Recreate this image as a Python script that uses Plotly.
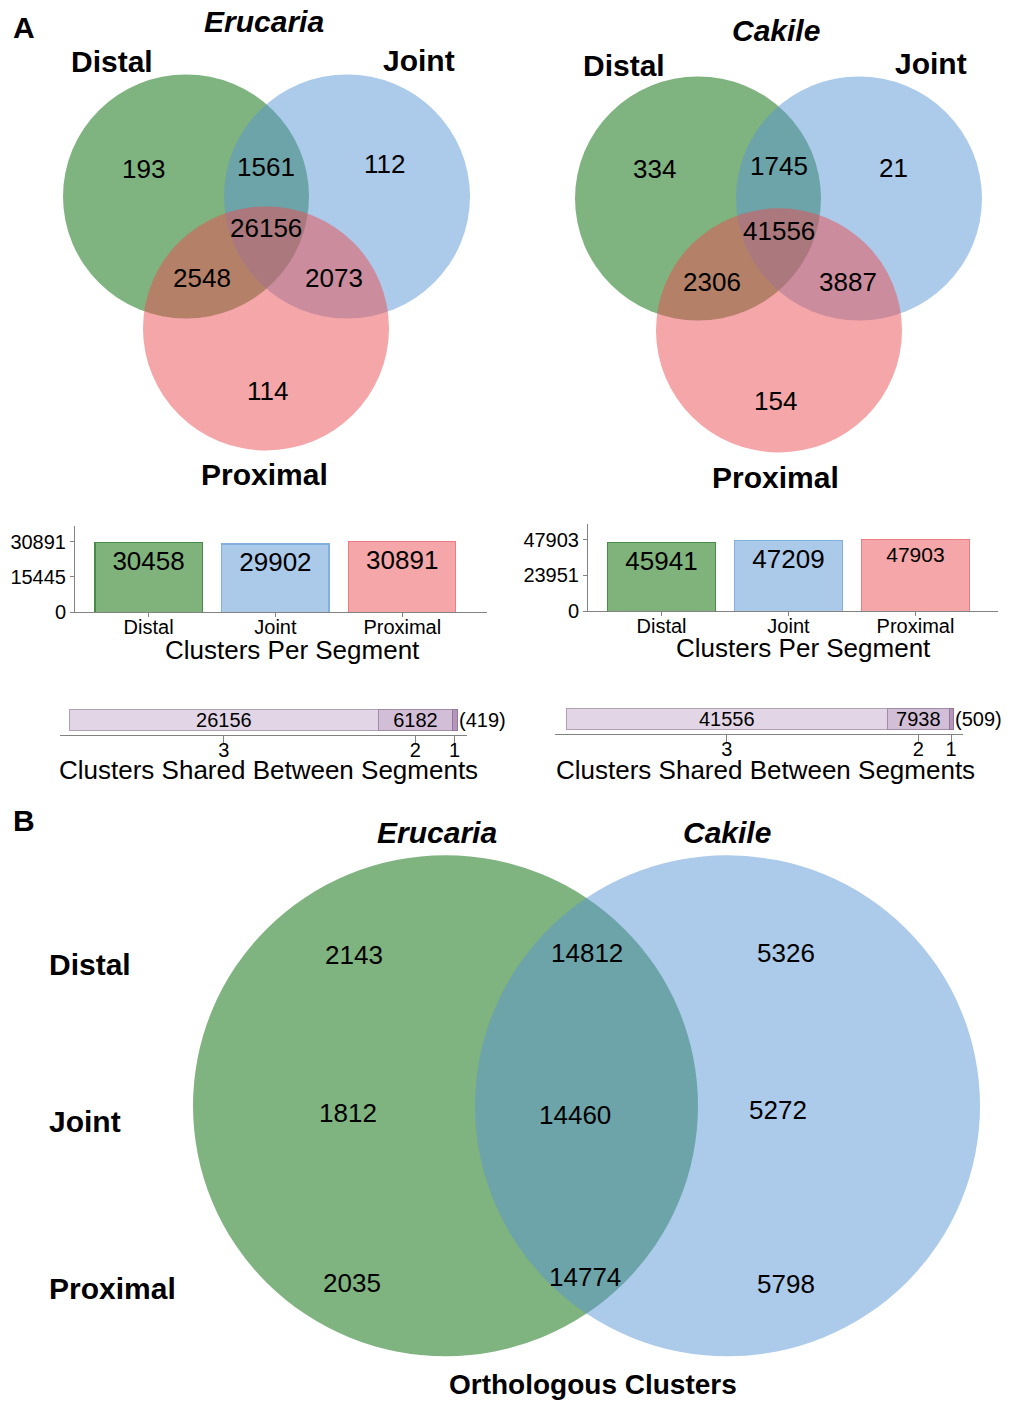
import plotly.graph_objects as go

W, H = 1021, 1411
FONT = "Liberation Sans, Arial, sans-serif"

# ---------------- data ----------------
segments = ["Distal", "Joint", "Proximal"]
venn_regions = ["100", "010", "001", "110", "101", "011", "111"]  # Distal/Joint/Proximal membership
erucaria_venn = [193, 112, 114, 1561, 2548, 2073, 26156]
cakile_venn = [334, 21, 154, 1745, 2306, 3887, 41556]
erucaria_per_segment = [30458, 29902, 30891]
cakile_per_segment = [45941, 47209, 47903]
shared_levels = ["3", "2", "1"]
erucaria_shared = [26156, 6182, 419]
cakile_shared = [41556, 7938, 509]
species = ["Erucaria", "Cakile"]
ortho_erucaria_only = [2143, 1812, 2035]
ortho_both = [14812, 14460, 14774]
ortho_cakile_only = [5326, 5272, 5798]

# ---------------- styles ----------------
GREEN_FILL = "rgb(0,103,0)"
BLUE_FILL = "rgb(89,149,211)"
RED_FILL = "rgb(233,77,81)"
circle_fills = [GREEN_FILL, BLUE_FILL, RED_FILL]
bar_fills = ["rgb(128,179,123)", "rgb(171,201,232)", "rgb(244,166,168)"]
bar_lines = ["rgb(70,140,70)", "rgb(130,175,222)", "rgb(235,125,130)"]
shared_fills = ["rgb(226,213,229)", "rgb(210,190,214)", "rgb(180,150,186)"]
shared_lines = ["rgb(175,160,180)", "rgb(160,140,166)", "rgb(150,120,156)"]
AXIS_GREY = "rgb(130,130,130)"


def xd(p0, p1):
    return [p0 / W, p1 / W]


def yd(top, bottom):
    return [1 - bottom / H, 1 - top / H]


fig = go.Figure()

# overlay axis in pixel coordinates (for the Venn diagrams and labels)
fig.add_trace(go.Scatter(x=[None], y=[None], xaxis="x", yaxis="y",
                         showlegend=False, hoverinfo="skip"))

shapes = []
annotations = []


def txt(x, y, s, size, bold=False, italic=False, xanchor="center", ref=("x", "y")):
    if italic:
        s = f"<i>{s}</i>"
    if bold:
        s = f"<b>{s}</b>"
    annotations.append(dict(x=x, y=y, xref=ref[0], yref=ref[1], text=s, showarrow=False,
                            xanchor=xanchor, yanchor="middle",
                            font=dict(family=FONT, size=size, color="black")))


def circle(cx, cy, r, color):
    shapes.append(dict(type="circle", xref="x", yref="y", x0=cx - r, x1=cx + r,
                       y0=cy - r, y1=cy + r, fillcolor=color, opacity=0.5,
                       line=dict(width=0), layer="below"))


# ---------------- panel A: 3-way Venns ----------------
venn_layouts = [
    dict(centers=[(186, 198), (347, 198), (266, 331)], r=123,
         title=(264, 22), labels=[(112, 62), (419, 61), (264, 478)],
         pos=[(143, 170), (384, 165), (267, 394), (266, 168), (202, 280), (334, 280), (266, 230)]),
    dict(centers=[(698, 200), (859, 200), (779, 333)], r=123,
         title=(776, 31), labels=[(624, 66), (931, 64), (775, 481)],
         pos=[(654, 170), (893, 169), (775, 404), (779, 167), (712, 284), (848, 284), (779, 233)]),
]
venn_values = [erucaria_venn, cakile_venn]

for sp, lay, vals in zip(species, venn_layouts, venn_values):
    for (cx, cy), col in zip(lay["centers"], circle_fills):
        circle(cx, cy, lay["r"], col)
    txt(*lay["title"], sp, 30, bold=True, italic=True)
    for (lx, ly), seg in zip(lay["labels"], segments):
        txt(lx, ly, seg, 30, bold=True)
    for (px, py), reg, v in zip(lay["pos"], venn_regions, vals):
        txt(px, py, str(v), 26)

txt(24, 28, "A", 30, bold=True)
txt(24, 827, "B", 30, bold=True)

# ---------------- panel A: clusters per segment bars ----------------
per_seg_layout = [
    dict(xa="x2", ya="y2", xdom=(75, 487), ydom=(530, 617), xr=(-0.58, 2.668), top=1.2255,
         sizes=[26, 26, 26], title=(292, 655)),
    dict(xa="x3", ya="y3", xdom=(588, 998), ydom=(528, 616), xr=(-0.579, 2.65), top=1.2222,
         sizes=[26, 26, 21], title=(803, 653)),
]
per_seg_values = [erucaria_per_segment, cakile_per_segment]

for i, (lay, vals) in enumerate(zip(per_seg_layout, per_seg_values)):
    fig.add_trace(go.Bar(
        x=segments, y=vals, xaxis=lay["xa"], yaxis=lay["ya"], width=0.845,
        marker=dict(color=bar_fills, line=dict(color=bar_lines, width=1.2)),
        text=[str(v) for v in vals], textposition="inside", insidetextanchor="end",
        textangle=0, constraintext="none",
        textfont=dict(family=FONT, size=lay["sizes"], color="black"),
        showlegend=False, hoverinfo="skip"))
    vmax = max(vals)
    axn = lay["xa"].replace("x", "xaxis")
    ayn = lay["ya"].replace("y", "yaxis")
    fig.layout[axn] = dict(domain=xd(*lay["xdom"]), anchor=lay["ya"], range=list(lay["xr"]),
                           showline=True, linecolor=AXIS_GREY, linewidth=1,
                           ticks="outside", ticklen=4, tickcolor=AXIS_GREY,
                           ticklabelstandoff=-7,
                           tickfont=dict(family=FONT, size=20, color="black"),
                           showgrid=False, zeroline=False, fixedrange=True)
    fig.layout[ayn] = dict(domain=yd(*lay["ydom"]), anchor=lay["xa"],
                           range=[0, vmax * lay["top"]],
                           tickvals=[0, vmax // 2, vmax],
                           ticktext=[str(t) for t in [0, vmax // 2, vmax]],
                           showline=True, linecolor=AXIS_GREY, linewidth=1,
                           ticks="outside", ticklen=4, tickcolor=AXIS_GREY,
                           tickfont=dict(family=FONT, size=20, color="black"),
                           showgrid=False, zeroline=False, fixedrange=True)
    txt(*lay["title"], "Clusters Per Segment", 26)

# ---------------- panel A: clusters shared between segments ----------------
shared_layout = [
    dict(xa="x4", ya="y4", axis=(60, 467), bar=(69, 457), ydom=(711, 741), title=(268, 776)),
    dict(xa="x5", ya="y5", axis=(555, 963), bar=(566, 953), ydom=(710, 740), title=(765, 776)),
]
shared_values = [erucaria_shared, cakile_shared]

for lay, vals in zip(shared_layout, shared_values):
    total = sum(vals)
    for j, (v, lvl) in enumerate(zip(vals, shared_levels)):
        fig.add_trace(go.Bar(
            x=[v], y=[0.5], orientation="h", width=0.7, xaxis=lay["xa"], yaxis=lay["ya"],
            marker=dict(color=shared_fills[j], line=dict(color=shared_lines[j], width=1)),
            text=[str(v)] if j < 2 else None, textposition="inside" if j < 2 else "none",
            insidetextanchor="middle", constraintext="none", textangle=0,
            textfont=dict(family=FONT, size=20, color="black"),
            showlegend=False, hoverinfo="skip"))
    a0, a1 = lay["axis"]
    b0, b1 = lay["bar"]
    per_px = total / (b1 - b0)
    cum = [sum(vals[:k]) + vals[k] / 2 for k in range(len(vals))]
    axn = lay["xa"].replace("x", "xaxis")
    ayn = lay["ya"].replace("y", "yaxis")
    fig.layout[axn] = dict(domain=xd(a0, a1), anchor=lay["ya"],
                           range=[-(b0 - a0) * per_px, total + (a1 - b1) * per_px],
                           tickvals=cum, ticktext=shared_levels,
                           showline=True, linecolor=AXIS_GREY, linewidth=1,
                           ticks="outside", ticklen=7, tickcolor=AXIS_GREY,
                           ticklabelstandoff=-10,
                           tickfont=dict(family=FONT, size=20, color="black"),
                           showgrid=False, zeroline=False, fixedrange=True)
    fig.layout[ayn] = dict(domain=yd(*lay["ydom"]), anchor=lay["xa"], range=[0, 1],
                           visible=False, fixedrange=True)
    annotations.append(dict(x=total, y=0.5, xref=lay["xa"], yref=lay["ya"],
                            text=f"({vals[-1]})", showarrow=False, xanchor="left",
                            yanchor="middle", xshift=0,
                            font=dict(family=FONT, size=20, color="black")))
    txt(*lay["title"], "Clusters Shared Between Segments", 26)

# ---------------- panel B: 2-way Venn of orthologous clusters ----------------
circle(445.5, 1114.5, 252.5, GREEN_FILL)
circle(727.5, 1114.5, 252.5, BLUE_FILL)
txt(437, 839, species[0], 30, bold=True, italic=True)
txt(727, 839, species[1], 30, bold=True, italic=True)
row_y = [972, 1130, 1299]
for seg, y in zip(segments, row_y):
    txt(47, y, seg, 30, bold=True, xanchor="left")
cell_pos = [
    [(354, 962), (587, 960), (786, 960)],
    [(348, 1122), (575, 1124), (778, 1119)],
    [(352, 1293), (585, 1287), (786, 1294)],
]
for k in range(3):
    for (px, py), v in zip(cell_pos[k], [ortho_erucaria_only[k], ortho_both[k], ortho_cakile_only[k]]):
        txt(px, py, str(v), 26)
txt(593, 1395, "Orthologous Clusters", 28, bold=True)

fig.update_layout(
    width=W, height=H, margin=dict(l=0, r=0, t=0, b=0),
    paper_bgcolor="white", plot_bgcolor="rgba(0,0,0,0)",
    barmode="stack", showlegend=False,
    font=dict(family=FONT, color="black"),
    xaxis=dict(domain=[0, 1], range=[0, W], visible=False, fixedrange=True),
    yaxis=dict(domain=[0, 1], range=[H, 0], visible=False, fixedrange=True),
    shapes=shapes, annotations=annotations,
)

page_fix = (
    "document.documentElement.style.margin='0px';"
    "document.body.style.margin='0px';"
    "document.body.style.padding='0px';"
    "var gd=document.getElementById('{plot_id}');"
    "gd.style.position='fixed';gd.style.top='0px';gd.style.left='0px';"
    "gd.style.overflow='hidden';"
    "document.documentElement.style.overflow='hidden';"
    "document.body.style.overflow='hidden';"
)

fig.write_html("out.html", config={"displayModeBar": False}, post_script=page_fix)
